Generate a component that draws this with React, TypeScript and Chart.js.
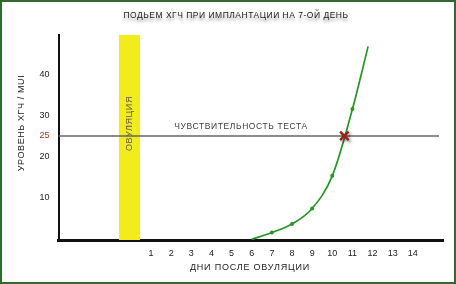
import React, { useEffect, useRef } from "react";
import { Chart, registerables } from "chart.js";

Chart.register(...registerables);

const TITLE = "ПОДЬЕМ ХГЧ ПРИ ИМПЛАНТАЦИИ НА 7-ОЙ ДЕНЬ";
const X_TITLE = "ДНИ ПОСЛЕ ОВУЛЯЦИИ";
const Y_TITLE = "УРОВЕНЬ ХГЧ / MUI";
const OVULATION_LABEL = "ОВУЛЯЦИЯ";
const SENSITIVITY_LABEL = "ЧУВСТВИТЕЛЬНОСТЬ ТЕСТА";

const X_TICKS = [1, 2, 3, 4, 5, 6, 7, 8, 9, 10, 11, 12, 13, 14];
const Y_TICKS = [10, 20, 25, 30, 40];

const HCG_DAYS = [6, 7, 8, 9, 10, 11, 11.78];
const HCG_VALUES = [-0.4, 1.3, 3.4, 7.2, 15.2, 31.6, 47];
const HCG_MARKERS = [0, 2, 2, 2, 2, 2, 0];

const SENSITIVITY = 25;
const SENSITIVITY_DAYS = [-3.6, 15.3];
const CROSS_DAY = 10.6;

const OVULATION_START = -0.6;
const OVULATION_END = 0.45;

const X_MIN = -3.6;
const X_MAX = 15.5;
const Y_MIN = -0.55;
const Y_MAX = 49.8;

const FONT = "'Liberation Sans', Arial, sans-serif";

const overlayPlugin = {
  id: "overlay",
  beforeDatasetsDraw(chart: any) {
    const { ctx, chartArea, scales } = chart;
    const x = scales.x;
    const y = scales.y;
    const x0 = x.getPixelForValue(OVULATION_START);
    const x1 = x.getPixelForValue(OVULATION_END);
    ctx.save();
    ctx.fillStyle = "#f3ec1c";
    ctx.fillRect(x0, chartArea.top, x1 - x0, chartArea.bottom - chartArea.top);
    ctx.restore();

    ctx.save();
    ctx.translate((x0 + x1) / 2, 123.5);
    ctx.rotate(-Math.PI / 2);
    ctx.font = `9px ${FONT}`;
    (ctx as any).letterSpacing = "0.6px";
    ctx.fillStyle = "#5a5a5a";
    ctx.textAlign = "center";
    ctx.textBaseline = "middle";
    ctx.fillText(OVULATION_LABEL, 0, 0);
    ctx.restore();

    ctx.save();
    ctx.font = `8.5px ${FONT}`;
    (ctx as any).letterSpacing = "0.6px";
    ctx.fillStyle = "#3c3c3c";
    ctx.textAlign = "center";
    ctx.textBaseline = "middle";
    ctx.fillText(SENSITIVITY_LABEL, 241, y.getPixelForValue(SENSITIVITY) - 9);
    ctx.restore();
  },
  beforeDatasetDraw(chart: any, args: any) {
    if (args.index === 2) {
      const ctx = chart.ctx;
      ctx.save();
      ctx.shadowColor = "rgba(0,0,0,0.45)";
      ctx.shadowBlur = 3;
      ctx.shadowOffsetX = 2;
      ctx.shadowOffsetY = 2;
    }
  },
  afterDatasetDraw(chart: any, args: any) {
    if (args.index === 2) chart.ctx.restore();
  },
  afterDraw(chart: any) {
    const { ctx, width, height } = chart;
    ctx.save();
    ctx.font = `8.5px ${FONT}`;
    (ctx as any).letterSpacing = "0.5px";
    ctx.fillStyle = "#222";
    ctx.textAlign = "center";
    ctx.textBaseline = "middle";
    ctx.shadowColor = "rgba(0,0,0,0.4)";
    ctx.shadowBlur = 3;
    ctx.shadowOffsetY = 3;
    ctx.fillText(TITLE, 236, 16);
    ctx.restore();

    ctx.save();
    ctx.font = `9px ${FONT}`;
    (ctx as any).letterSpacing = "0.8px";
    ctx.fillStyle = "#222";
    ctx.textAlign = "center";
    ctx.textBaseline = "middle";
    ctx.fillText(X_TITLE, 250, 268);
    ctx.restore();

    ctx.save();
    ctx.translate(22, 123);
    ctx.rotate(-Math.PI / 2);
    ctx.font = `9px ${FONT}`;
    (ctx as any).letterSpacing = "0.6px";
    ctx.fillStyle = "#222";
    ctx.textAlign = "center";
    ctx.textBaseline = "middle";
    ctx.fillText(Y_TITLE, 0, 0);
    ctx.restore();

    ctx.save();
    ctx.strokeStyle = "#2f6a2f";
    ctx.lineWidth = 2;
    ctx.strokeRect(1, 1, width - 2, height - 2);
    ctx.restore();
  },
};

export default function App() {
  const ref = useRef<HTMLCanvasElement>(null);
  useEffect(() => {
    if (!ref.current) return;
    const chart = new Chart(ref.current, {
      type: "line",
      data: {
        datasets: [
          {
            label: "ХГЧ",
            data: HCG_DAYS.map((d, i) => ({ x: d, y: HCG_VALUES[i] })),
            borderColor: "#279427",
            backgroundColor: "#279427",
            borderWidth: 1.7,
            pointRadius: HCG_MARKERS,
            pointBorderWidth: 0,
            cubicInterpolationMode: "monotone",
            order: 2,
          },
          {
            label: "Чувствительность теста",
            data: SENSITIVITY_DAYS.map((d) => ({ x: d, y: SENSITIVITY })),
            borderColor: "#666",
            borderWidth: 1.5,
            pointRadius: 0,
            order: 3,
          },
          {
            label: "Пересечение",
            data: [{ x: CROSS_DAY, y: SENSITIVITY }],
            showLine: false,
            pointStyle: "crossRot",
            pointRadius: 6,
            borderWidth: 2.5,
            borderColor: "#a01c1c",
            order: 1,
          },
        ] as any,
      },
      options: {
        animation: false,
        responsive: false,
        layout: { padding: { top: 35, right: 13, left: 0, bottom: 0 } },
        plugins: { legend: { display: false }, title: { display: false }, tooltip: { enabled: false } },
        scales: {
          x: {
            type: "linear",
            min: X_MIN,
            max: X_MAX,
            afterBuildTicks: (s: any) => {
              s.ticks = X_TICKS.map((v) => ({ value: v }));
            },
            afterFit: (s: any) => {
              s.height = 44;
            },
            grid: { display: false, drawTicks: false },
            border: { display: true, color: "#111", width: 3 },
            ticks: {
              autoSkip: false,
              maxRotation: 0,
              padding: 8,
              color: "#222",
              font: { family: FONT, size: 9 },
            },
          },
          y: {
            type: "linear",
            min: Y_MIN,
            max: Y_MAX,
            afterBuildTicks: (s: any) => {
              s.ticks = Y_TICKS.map((v) => ({ value: v }));
            },
            afterFit: (s: any) => {
              s.width = 58.5;
            },
            grid: { display: false, drawTicks: false },
            border: { display: true, color: "#111", width: 2 },
            ticks: {
              autoSkip: false,
              padding: 9,
              color: (c: any) => (c.tick && c.tick.value === SENSITIVITY ? "#b0302a" : "#222"),
              font: { family: FONT, size: 9 },
            },
          },
        },
      },
      plugins: [overlayPlugin],
    } as any);
    return () => chart.destroy();
  }, []);
  return (
    <div style={{ position: "fixed", left: 0, top: 0, width: 456, height: 284, background: "#fff" }}>
      <canvas ref={ref} width={456} height={284} style={{ display: "block" }} />
    </div>
  );
}
